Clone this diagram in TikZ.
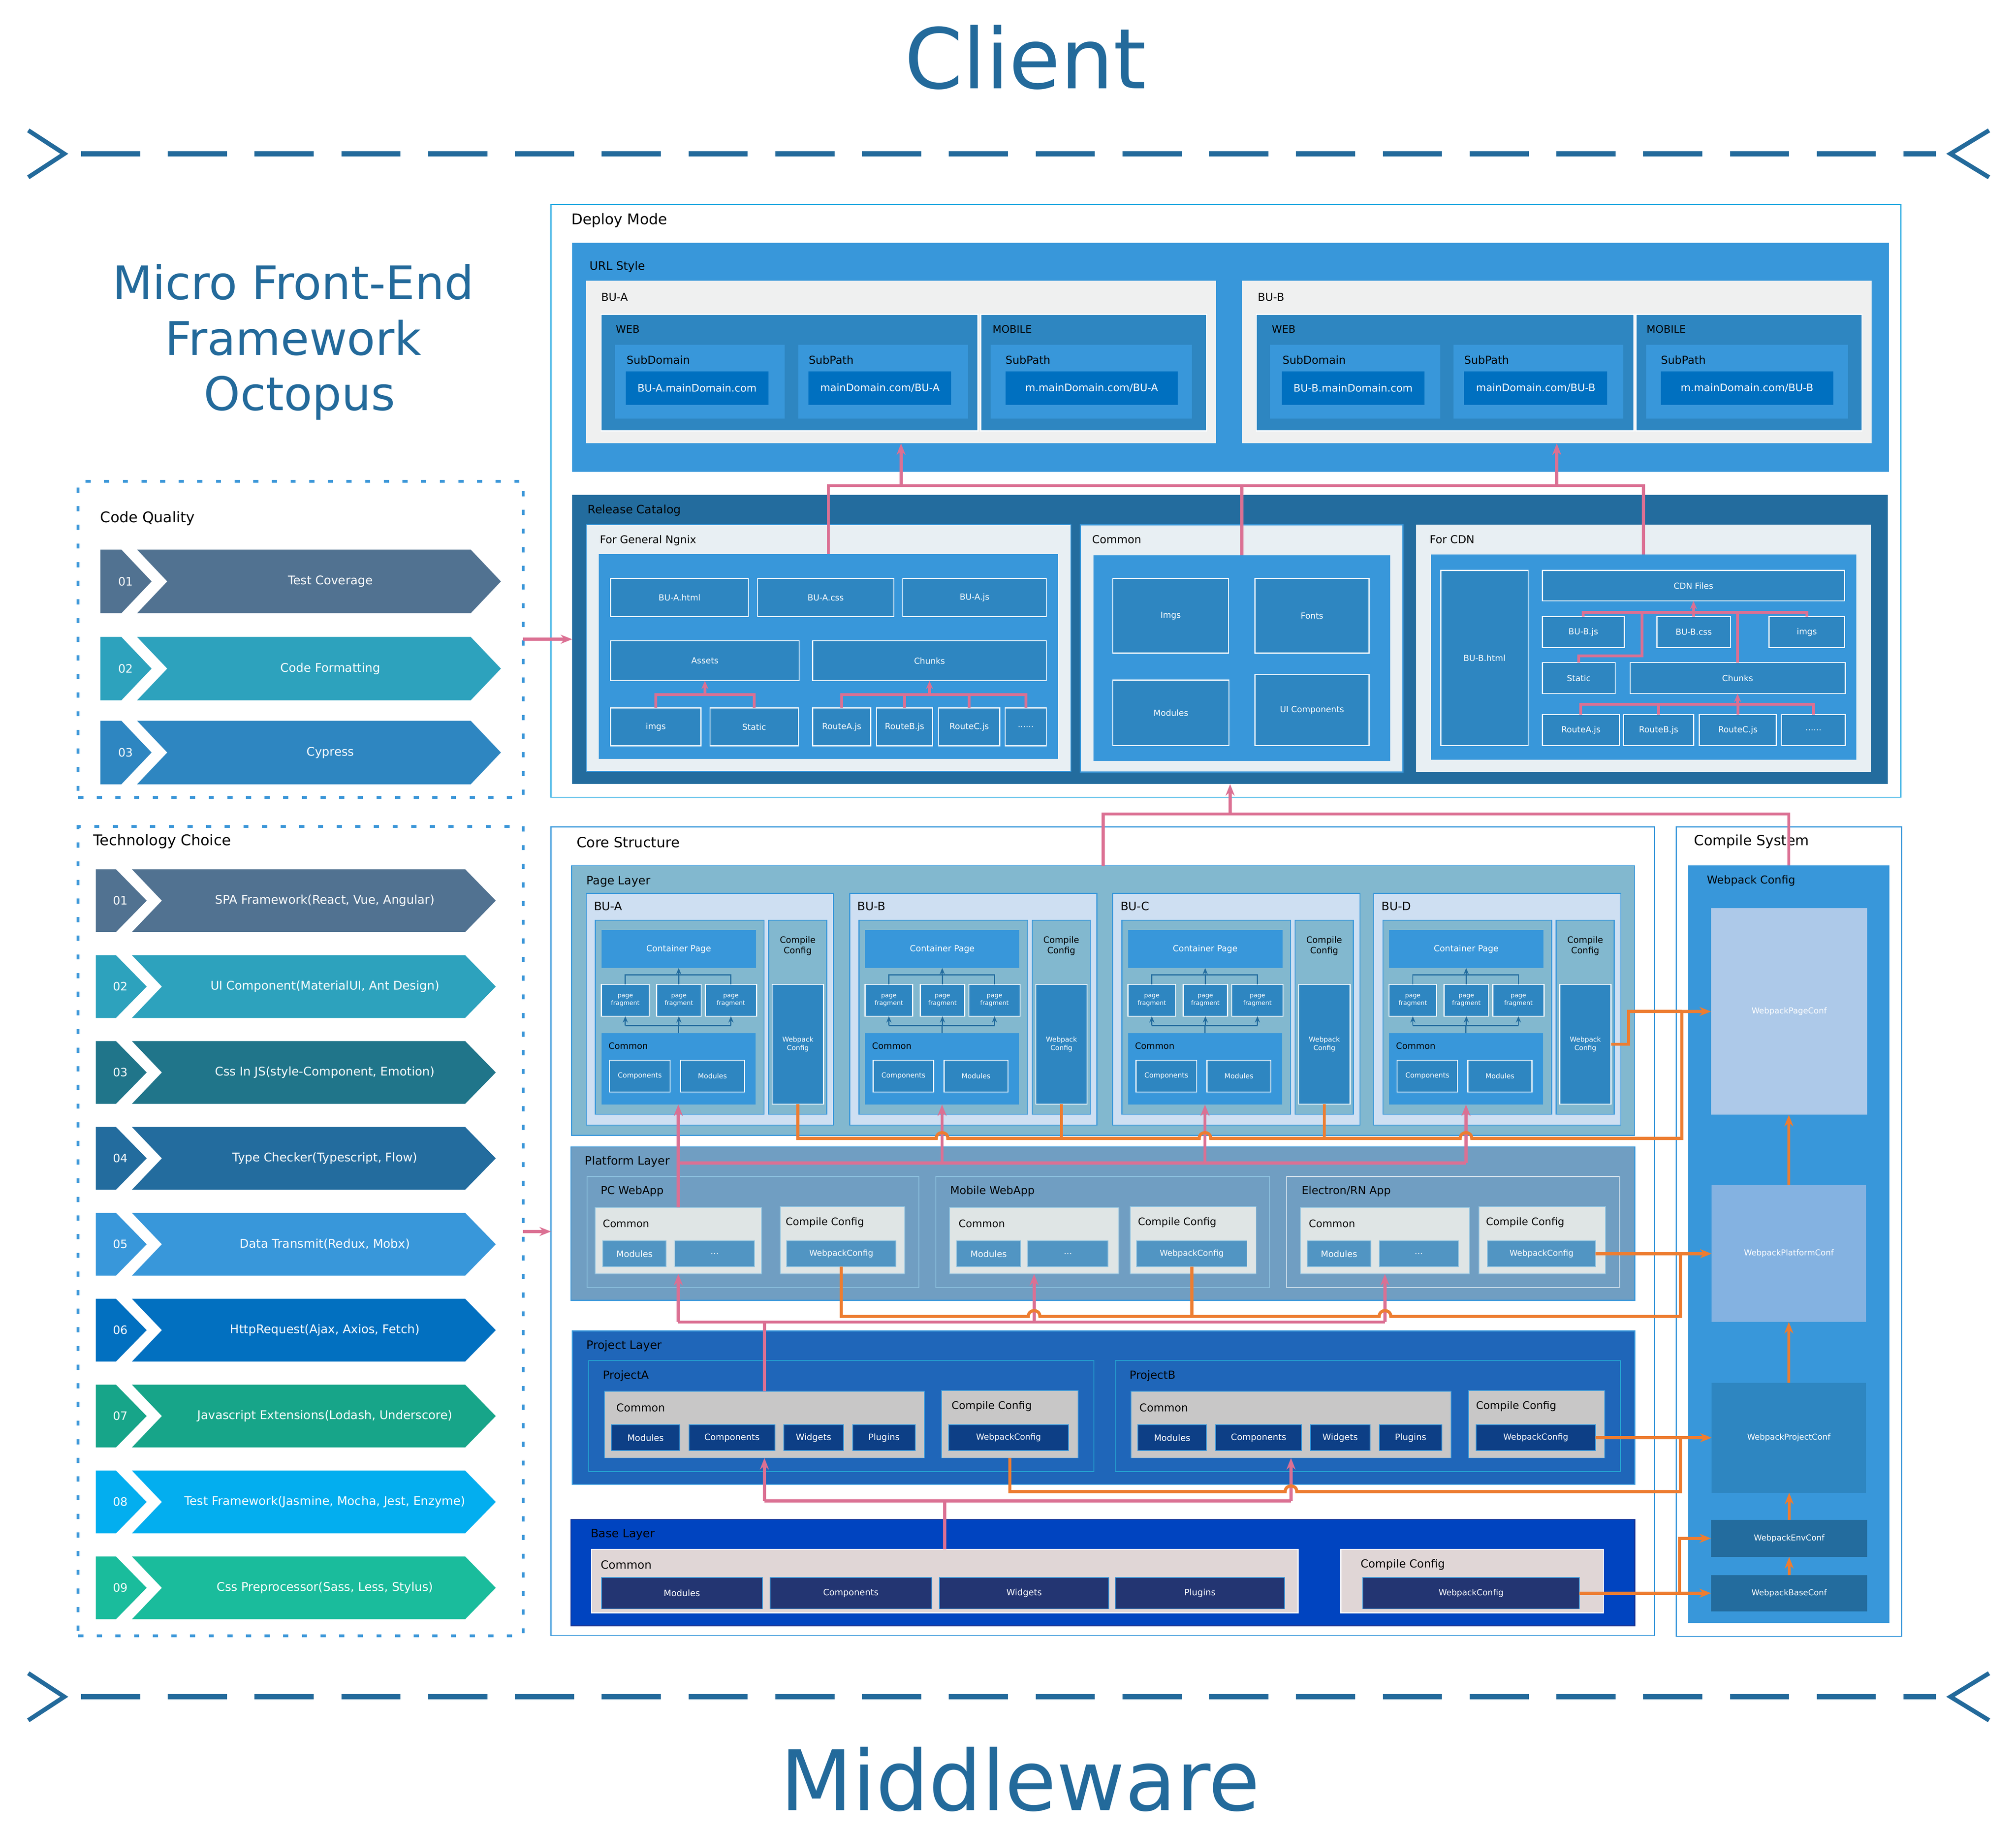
\documentclass[tikz,border=0pt]{standalone}
\usepackage{fontspec}
\setmainfont{DejaVu Sans}
\usetikzlibrary{arrows.meta}
\definecolor{tblue}{RGB}{35,106,155}
\definecolor{dline}{RGB}{58,150,216}
\definecolor{dmb}{RGB}{41,171,226}
\definecolor{urlb}{RGB}{56,151,218}
\definecolor{webb}{RGB}{46,134,193}
\definecolor{domb}{RGB}{0,112,192}
\definecolor{lgray}{RGB}{239,240,240}
\definecolor{relb}{RGB}{35,108,158}
\definecolor{ngbg}{RGB}{232,239,243}
\definecolor{pagel}{RGB}{130,184,207}
\definecolor{bul}{RGB}{206,223,242}
\definecolor{platl}{RGB}{112,158,194}
\definecolor{platg}{RGB}{223,229,229}
\definecolor{plati}{RGB}{81,149,195}
\definecolor{plb}{RGB}{140,192,222}
\definecolor{projl}{RGB}{31,102,185}
\definecolor{projb}{RGB}{37,163,208}
\definecolor{projg}{RGB}{200,199,199}
\definecolor{proji}{RGB}{13,63,134}
\definecolor{basel}{RGB}{0,68,192}
\definecolor{baseg}{RGB}{224,214,214}
\definecolor{basei}{RGB}{35,53,114}
\definecolor{pinkc}{RGB}{219,112,147}
\definecolor{orng}{RGB}{237,125,49}
\definecolor{pconfc}{RGB}{173,201,233}
\definecolor{plconfc}{RGB}{132,178,225}
\definecolor{ca}{RGB}{81,114,145}
\definecolor{cb}{RGB}{45,162,189}
\definecolor{cc}{RGB}{32,117,138}
\definecolor{cd}{RGB}{35,108,158}
\definecolor{ce}{RGB}{56,151,218}
\definecolor{cf}{RGB}{2,112,192}
\definecolor{cg}{RGB}{23,165,137}
\definecolor{ch}{RGB}{3,174,239}
\definecolor{ci}{RGB}{26,188,156}
\newcommand\myfs[1]{\fontsize{#1}{\fpeval{#1*1.2}}\selectfont}
\newcommand\mybox[7]{\node[bxs,#6,minimum width={(#4)-(#2)},minimum height={(#5)-(#3)}] (#1) at (#2,#3) {#7};}
\newcommand\mychev[6]{%
  \pgfmathsetmacro\cmid{(#2+#3)/2}%
  \fill[#4] (\cxa,#2) -- (\cxb,#2) -- (\cxc,\cmid) -- (\cxb,#3) -- (\cxa,#3) -- cycle;
  \fill[#4] (\cxd,#2) -- (\cxf,#2) -- (\cxg,\cmid) -- (\cxf,#3) -- (\cxd,#3) -- (\cxe,\cmid) -- cycle;
  \node[font=\myfs{9},text=white,inner sep=0pt] (#1n) at (\cxn,\cmid) {#5};
  \node[font=\myfs{9.3},text=white,inner sep=0pt] (#1t) at (\cxl,\cmid) {#6};
}
\begin{document}
\begin{tikzpicture}[x=1pt,y=-1pt,
  bxs/.style={anchor=north west,inner sep=0pt,outer sep=0pt,align=center},
  lb/.style={anchor=west,inner sep=0pt,outer sep=0pt},
  ttl/.style={anchor=base,text=tblue,font=\myfs{65}},
  wline/.style={draw=white,line width=0.8pt},
  rit/.style={fill=webb,wline,text=white,font=\myfs{6.5}},
  frag/.style={fill=webb,wline,text=white,font=\myfs{4.8}},
  pit/.style={fill=webb,wline,text=white,font=\myfs{5.4}},
  plit/.style={fill=plati,draw=plb,line width=0.6pt,text=white,font=\myfs{6.8}},
  prit/.style={fill=proji,draw=urlb,line width=0.6pt,text=white,font=\myfs{6.8}},
  bait/.style={fill=basei,draw=urlb,line width=0.6pt,text=white,font=\myfs{6.8}},
  cfit/.style={text=white,font=\myfs{6.3}},
  dbox/.style={draw=dline,line width=2.2pt,dash pattern=on 4pt off 10.5pt},
  pk/.style={draw=pinkc,line width=2.4pt},
  pka/.style={pk,-{Stealth[length=9pt,width=7pt]}},
  pks/.style={draw=pinkc,line width=2.2pt},
  pksa/.style={pks,-{Stealth[length=6.5pt,width=5.5pt]}},
  og/.style={draw=orng,line width=2.4pt},
  oga/.style={og,-{Stealth[length=9pt,width=7pt]}},
  bl/.style={draw=relb,line width=0.9pt},
  bla/.style={bl,-{Stealth[length=5pt,width=4pt]}}]
\fill[white] (0,0) rectangle (1568,1422.9);
\useasboundingbox (0,0) rectangle (1568,1422.9);

% ---------- titles and separators
\node[ttl] (client) at (797.5,68.7) {Client};
\node[ttl] (mware) at (793.5,1408) {Middleware};
\draw[tblue,line width=4pt,dash pattern=on 46pt off 21.5pt] (63,119.6) -- (1506,119.6);
\draw[tblue,line width=3.4pt] (22,101.4) -- (50,119.6) -- (22,137.9);
\draw[tblue,line width=3.4pt] (1547,101.4) -- (1517,119.6) -- (1547,137.9);
\draw[tblue,line width=4pt,dash pattern=on 46pt off 21.5pt] (63,1319.5) -- (1506,1319.5);
\draw[tblue,line width=3.4pt] (22,1301.2) -- (50,1319.5) -- (22,1337.8);
\draw[tblue,line width=3.4pt] (1547,1301.2) -- (1517,1319.5) -- (1547,1337.8);
\node[anchor=base,text=tblue,font=\myfs{36}] (mt1) at (228,233) {Micro Front-End};
\node[anchor=base,text=tblue,font=\myfs{36}] (mt2) at (228,276) {Framework};
\node[anchor=base,text=tblue,font=\myfs{36}] (mt3) at (233,319) {Octopus};

% ---------- Code Quality
\mybox{cqbox}{60.8}{374.3}{406.8}{620}{dbox}{}
\node[lb,font=\myfs{11.4}] (cqt) at (78,403) {Code Quality};
\def\cxa{78.1}\def\cxb{94.4}\def\cxc{117.9}\def\cxd{106.6}\def\cxe{130.1}\def\cxf{366.1}\def\cxg{389.6}\def\cxn{97.7}\def\cxl{257}
\mychev{cqa}{427.4}{476.9}{ca}{01}{Test Coverage}
\mychev{cqb}{495.3}{544.6}{cb}{02}{Code Formatting}
\mychev{cqc}{560.5}{609.9}{webb}{03}{Cypress}

% ---------- Technology Choice
\mybox{tcbox}{60.8}{642.7}{406.8}{1272.2}{dbox}{}
\node[lb,font=\myfs{11.5}] (tct) at (72.6,654.4) {Technology Choice};
\def\cxa{74.5}\def\cxb{90.2}\def\cxc{114.1}\def\cxd{102.6}\def\cxe{125.9}\def\cxf{361.8}\def\cxg{385.6}\def\cxn{93.7}\def\cxl{252.7}
\mychev{tca}{676}{724.8}{ca}{01}{SPA Framework(React, Vue, Angular)}
\mychev{tcb}{742.8}{791.6}{cb}{02}{UI Component(MaterialUI, Ant Design)}
\mychev{tcc}{809.6}{858.4}{cc}{03}{Css In JS(style-Component, Emotion)}
\mychev{tcd}{876.4}{925.2}{cd}{04}{Type Checker(Typescript, Flow)}
\mychev{tce}{943.2}{992}{ce}{05}{Data Transmit(Redux, Mobx)}
\mychev{tcf}{1010}{1058.8}{cf}{06}{HttpRequest(Ajax, Axios, Fetch)}
\mychev{tcg}{1076.8}{1125.6}{cg}{07}{Javascript Extensions(Lodash, Underscore)}
\mychev{tch}{1143.6}{1192.4}{ch}{08}{Test Framework(Jasmine, Mocha, Jest, Enzyme)}
\mychev{tci}{1210.4}{1259.2}{ci}{09}{Css Preprocessor(Sass, Less, Stylus)}

% ---------- Deploy Mode
\mybox{dm}{428.6}{159}{1478.4}{620}{draw=dmb,line width=0.9pt}{}
\node[lb,font=\myfs{11.4}] (dmt) at (444.4,171.3) {Deploy Mode};
\mybox{url}{445.1}{188.8}{1469.1}{367}{fill=urlb}{}
\node[lb,font=\myfs{9}] (urlt) at (458.5,207.5) {URL Style};
% BU-A
\mybox{dbua}{455.7}{218.4}{945.9}{344.8}{fill=lgray}{}
\node[lb,font=\myfs{8.5}] (dbual) at (467.6,231) {BU-A};
\mybox{dawb}{467.6}{244.5}{760.7}{335}{fill=webb,wline}{}
\node[lb,font=\myfs{8}] (dawbl) at (479,256.1) {WEB};
\mybox{damb}{762.8}{244.5}{938.4}{335}{fill=webb,wline}{}
\node[lb,font=\myfs{8}] (dambl) at (772,256.1) {MOBILE};
\mybox{dasd}{478.2}{268.2}{610.2}{325.5}{fill=urlb}{}
\node[lb,font=\myfs{8.5}] (dasdl) at (487.4,280) {SubDomain};
\mybox{dasp}{620.9}{268.2}{752.9}{325.5}{fill=urlb}{}
\node[lb,font=\myfs{8.5}] (daspl) at (629,280) {SubPath};
\mybox{damp}{770.5}{268.2}{926.9}{325.5}{fill=urlb}{}
\node[lb,font=\myfs{8.5}] (dampl) at (782.1,280) {SubPath};
\mybox{dasdv}{486.7}{288.7}{597.6}{314.9}{fill=domb,text=white,font=\myfs{8}}{BU-A.mainDomain.com}
\mybox{daspv}{628.9}{288.7}{739.9}{314.9}{fill=domb,text=white,font=\myfs{8}}{mainDomain.com/BU-A}
\mybox{dampv}{782.1}{288.7}{916}{314.9}{fill=domb,text=white,font=\myfs{8}}{m.mainDomain.com/BU-A}
% BU-B
\mybox{dbub}{965.9}{218.4}{1455.7}{344.8}{fill=lgray}{}
\node[lb,font=\myfs{8.5}] (dbubl) at (978.2,231) {BU-B};
\mybox{dbwb}{977.2}{244.5}{1270.8}{335}{fill=webb,wline}{}
\node[lb,font=\myfs{8}] (dbwbl) at (989.2,256.1) {WEB};
\mybox{dbmb}{1272.5}{244.5}{1448.2}{335}{fill=webb,wline}{}
\node[lb,font=\myfs{8}] (dbmbl) at (1280.7,256.1) {MOBILE};
\mybox{dbsd}{987.9}{268.2}{1120.2}{325.5}{fill=urlb}{}
\node[lb,font=\myfs{8.5}] (dbsdl) at (997.5,280) {SubDomain};
\mybox{dbsp}{1130.5}{268.2}{1262.5}{325.5}{fill=urlb}{}
\node[lb,font=\myfs{8.5}] (dbspl) at (1138.8,280) {SubPath};
\mybox{dbmp}{1280.4}{268.2}{1437.1}{325.5}{fill=urlb}{}
\node[lb,font=\myfs{8.5}] (dbmpl) at (1291.8,280) {SubPath};
\mybox{dbsdv}{996.8}{288.7}{1107.9}{314.9}{fill=domb,text=white,font=\myfs{8}}{BU-B.mainDomain.com}
\mybox{dbspv}{1138.8}{288.7}{1250.1}{314.9}{fill=domb,text=white,font=\myfs{8}}{mainDomain.com/BU-B}
\mybox{dbmpv}{1291.7}{288.7}{1425.8}{314.9}{fill=domb,text=white,font=\myfs{8}}{m.mainDomain.com/BU-B}

% ---------- Release Catalog
\mybox{rel}{445.1}{384.7}{1468.4}{609.7}{fill=relb}{}
\node[lb,font=\myfs{9}] (relt) at (457.1,396.8) {Release Catalog};
\mybox{ngx}{456}{408}{832.9}{599.9}{fill=ngbg,draw=urlb,line width=0.8pt}{}
\node[lb,font=\myfs{8.3}] (ngxl) at (466.6,420.3) {For General Ngnix};
\mybox{ngin}{465.6}{430.8}{823}{590.1}{fill=urlb}{}
\mybox{rahtml}{475}{449.9}{582.1}{479.4}{rit}{BU-A.html}
\mybox{racss}{589.2}{449.9}{695.2}{479.4}{rit}{BU-A.css}
\mybox{rajs}{702.2}{449.9}{813.8}{479.4}{rit}{BU-A.js}
\mybox{rassets}{475}{498.3}{621.5}{529.4}{rit}{Assets}
\mybox{rchunks}{632.1}{498.3}{813.8}{529.4}{rit}{Chunks}
\mybox{rimgs}{475}{550.5}{545.1}{580}{rit}{imgs}
\mybox{rstatic}{552.2}{550.5}{620.9}{580}{rit}{Static}
\mybox{rra}{632.1}{550.5}{677.2}{580}{rit}{RouteA.js}
\mybox{rrb}{681.7}{550.5}{725.4}{580}{rit}{RouteB.js}
\mybox{rrc}{730}{550.5}{777.6}{580}{rit}{RouteC.js}
\mybox{rrd}{781.8}{550.5}{813.8}{580}{rit}{......}
\mybox{cmn}{840.3}{408.1}{1091.1}{600.3}{fill=ngbg,draw=urlb,line width=0.8pt}{}
\node[lb,font=\myfs{8.5}] (cmnl) at (849.4,419.6) {Common};
\mybox{cin}{850.5}{431.9}{1081.3}{591.7}{fill=urlb}{}
\mybox{cimgs}{865.5}{449.8}{955.5}{507.9}{rit}{Imgs}
\mybox{cfonts}{976.1}{449.8}{1064.8}{507.9}{rit}{Fonts}
\mybox{cmod}{865.5}{528.9}{955.9}{579.9}{rit}{Modules}
\mybox{cui}{976.1}{524.6}{1064.8}{579.9}{rit}{UI Components}
\mybox{cdn}{1101.4}{408.1}{1455.2}{600.3}{fill=ngbg}{}
\node[lb,font=\myfs{8.5}] (cdnl) at (1112,419.5) {For CDN};
\mybox{cdnin}{1112.9}{431.2}{1443.7}{590.9}{fill=urlb}{}
\mybox{bbhtml}{1120.7}{443.6}{1188.5}{579.9}{rit}{BU-B.html}
\mybox{cdnf}{1199.6}{443.6}{1434.7}{467.3}{rit}{CDN Files}
\mybox{bbjs}{1199.6}{479.4}{1263.3}{503.6}{rit}{BU-B.js}
\mybox{bbcss}{1288.8}{479.4}{1345.9}{503.6}{rit}{BU-B.css}
\mybox{bimgs}{1375.9}{479.4}{1434.7}{503.6}{rit}{imgs}
\mybox{bstatic}{1199.6}{515.2}{1256.3}{539.4}{rit}{Static}
\mybox{bchunks}{1267.8}{515.2}{1435.1}{539.4}{rit}{Chunks}
\mybox{bra}{1199.6}{555.7}{1259.6}{579.9}{rit}{RouteA.js}
\mybox{brb}{1262.9}{555.7}{1317.2}{579.9}{rit}{RouteB.js}
\mybox{brc}{1321.7}{555.7}{1381.6}{579.9}{rit}{RouteC.js}
\mybox{brd}{1385.8}{555.7}{1435.1}{579.9}{rit}{......}

% release internal connectors
\coordinate (rbus) at (0,540.2);
\draw[pks] (rimgs.north) -- (rimgs.north|-rbus) -- (rstatic.north|-rbus) -- (rstatic.north);
\draw[pksa] (rassets.south|-rbus) -- (rassets.south);
\draw[pks] (rra.north) -- (rra.north|-rbus) -- (rrd.north|-rbus) -- (rrd.north);
\draw[pks] (rrb.north) -- (rrb.north|-rbus);
\draw[pks] (rrc.north) -- (rrc.north|-rbus);
\draw[pksa] (rchunks.south|-rbus) -- (rchunks.south);
\coordinate (cbus) at (0,476.2);
\coordinate (cbus2) at (0,547.8);
\coordinate (cstj) at (1277.2,510);
\draw[pks] (bbjs.north) -- (bbjs.north|-cbus) -- (bimgs.north|-cbus) -- (bimgs.north);
\draw[pks] (bbcss.north) -- (bbcss.north|-cbus);
\draw[pksa] (cdnf.south|-cbus) -- (cdnf.south);
\draw[pks] (cstj|-cbus) -- (cstj) -- (bstatic.north|-cstj) -- (bstatic.north);
\draw[pks] (bchunks.north|-cbus) -- (bchunks.north);
\draw[pks] (bra.north) -- (bra.north|-cbus2) -- (brd.north|-cbus2) -- (brd.north);
\draw[pks] (brb.north) -- (brb.north|-cbus2);
\draw[pks] (brc.north) -- (brc.north|-cbus2);
\draw[pksa] (bchunks.south|-cbus2) -- (bchunks.south);

% ---------- Core Structure
\mybox{core}{428.6}{643}{1286.8}{1272}{draw=urlb,line width=0.8pt}{}
\node[lb,font=\myfs{11}] (coret) at (448.5,655) {Core Structure};
\mybox{cmps}{1303.7}{643}{1479}{1272.6}{draw=urlb,line width=0.8pt}{}
\node[lb,font=\myfs{11}] (cmpst) at (1317.6,654.3) {Compile System};

% Page layer
\mybox{pagel}{444.5}{673.3}{1271.3}{882.9}{fill=pagel,draw=urlb,line width=0.8pt}{}
\node[lb,font=\myfs{9}] (pagelt) at (456.1,685.4) {Page Layer};
\foreach \DD/\LL/\NM in {0/a/BU-A,205/b/BU-B,409.5/c/BU-C,612.5/d/BU-D}{
\begin{scope}[xshift=\DD pt]
\mybox{pbu\LL}{455.9}{694.7}{648.2}{874.9}{fill=bul,draw=urlb,line width=0.8pt}{}
\node[lb,font=\myfs{9}] (pbl\LL) at (462,704.6) {\NM};
\mybox{pin\LL}{463.1}{715.6}{594.3}{866.5}{fill=pagel,draw=urlb,line width=0.8pt}{}
\mybox{pcc\LL}{597.8}{715.6}{643}{866.5}{fill=pagel,draw=urlb,line width=0.8pt}{}
\node[font=\myfs{6.8},align=center,inner sep=0pt] (pccl\LL) at (620.4,735.5) {Compile\\Config};
\mybox{pcp\LL}{467.8}{723.3}{587.9}{752.7}{fill=urlb,text=white,font=\myfs{6.6}}{Container Page}
\mybox{pfa\LL}{467.8}{765.5}{504.9}{790.2}{frag}{page\\fragment}
\mybox{pfb\LL}{510.7}{765.5}{545.3}{790.2}{frag}{page\\fragment}
\mybox{pfc\LL}{548.6}{765.5}{588.4}{790.2}{frag}{page\\fragment}
\mybox{pcm\LL}{467.8}{803.3}{587.6}{858.9}{fill=urlb}{}
\node[lb,font=\myfs{6.8}] (pcml\LL) at (473.3,813.3) {Common};
\mybox{pco\LL}{474.1}{824.4}{521.2}{849.2}{pit}{Components}
\mybox{pmo\LL}{529.2}{824.4}{579}{849.2}{pit}{Modules}
\mybox{pwc\LL}{600.6}{765.5}{640.5}{858.6}{pit,font=\myfs{5.3}}{Webpack\\Config}
\coordinate (ubus) at (0,758.1);
\coordinate (lbus) at (0,797.6);
\draw[bl] (pfa\LL.north) -- (pfa\LL.north|-ubus) -- (pfc\LL.north|-ubus) -- (pfc\LL.north);
\draw[bl] (pfb\LL.north) -- (pfb\LL.north|-ubus);
\draw[bla] (pcp\LL.south|-ubus) -- (pcp\LL.south);
\draw[bl] (pcm\LL.north) -- (pcm\LL.north|-lbus);
\draw[bl] (pfa\LL.south|-lbus) -- (pfc\LL.south|-lbus);
\draw[bla] (pfa\LL.south|-lbus) -- (pfa\LL.south);
\draw[bla] (pfb\LL.south|-lbus) -- (pfb\LL.south);
\draw[bla] (pfc\LL.south|-lbus) -- (pfc\LL.south);
\end{scope}
}

% Platform layer
\mybox{plat}{444}{891.8}{1271.4}{1011.2}{fill=platl,draw=urlb,line width=0.8pt}{}
\node[lb,font=\myfs{9}] (platt) at (455,903.4) {Platform Layer};
\mybox{plp}{456.7}{914.9}{714.6}{1001.2}{draw=plb,line width=0.7pt}{}
\node[lb,font=\myfs{8.5}] (plpl) at (467.2,926.5) {PC WebApp};
\mybox{plpcom}{462.8}{938.8}{592.3}{990.6}{fill=platg,draw=plb,line width=0.6pt}{}
\node[lb,font=\myfs{8}] (plpcoml) at (468.9,951.5) {Common};
\mybox{plpmo}{468.9}{964.9}{518.1}{985}{plit}{Modules}
\mybox{plpdo}{524.8}{964.9}{586.8}{985}{plit}{...}
\mybox{plpcc}{606.7}{938.3}{703.6}{990.6}{fill=platg,draw=plb,line width=0.6pt}{}
\node[lb,font=\myfs{8}] (plpccl) at (611.1,950.6) {Compile Config};
\mybox{plpwc}{611.7}{964.9}{696.9}{985}{plit,font=\myfs{6.4}}{WebpackConfig}
\mybox{plm}{727.9}{914.9}{987.5}{1001.2}{draw=plb,line width=0.7pt}{}
\node[lb,font=\myfs{8.5}] (plml) at (739,926.5) {Mobile WebApp};
\mybox{plmcom}{738.4}{938.8}{870.2}{990.6}{fill=platg,draw=plb,line width=0.6pt}{}
\node[lb,font=\myfs{8}] (plmcoml) at (745.6,951.5) {Common};
\mybox{plmmo}{744}{964.9}{793.8}{985}{plit}{Modules}
\mybox{plmdo}{799.3}{964.9}{861.9}{985}{plit}{...}
\mybox{plmcc}{879}{938.3}{977}{990.6}{fill=platg,draw=plb,line width=0.6pt}{}
\node[lb,font=\myfs{8}] (plmccl) at (885.1,950.6) {Compile Config};
\mybox{plmwc}{884}{964.9}{969.8}{985}{plit,font=\myfs{6.4}}{WebpackConfig}
\mybox{ple}{1000.8}{914.9}{1259.3}{1001.2}{draw={rgb,255:red,215;green,228;blue,238},line width=0.7pt}{}
\node[lb,font=\myfs{8.5}] (plel) at (1012.4,926.5) {Electron/RN App};
\mybox{plecom}{1011.3}{938.8}{1143}{990.6}{fill=platg,draw=plb,line width=0.6pt}{}
\node[lb,font=\myfs{8}] (plecoml) at (1018,951.5) {Common};
\mybox{plemo}{1016.8}{964.9}{1066.1}{985}{plit}{Modules}
\mybox{pledo}{1072.7}{964.9}{1134.2}{985}{plit}{...}
\mybox{plecc}{1150.2}{938.3}{1248.8}{990.6}{fill=platg,draw=plb,line width=0.6pt}{}
\node[lb,font=\myfs{8}] (pleccl) at (1155.8,950.6) {Compile Config};
\mybox{plewc}{1156.9}{964.9}{1241}{985}{plit,font=\myfs{6.4}}{WebpackConfig}

% Project layer
\mybox{proj}{445.1}{1035}{1271.4}{1154.3}{fill=projl,draw=urlb,line width=0.8pt}{}
\node[lb,font=\myfs{9}] (projt) at (456.1,1046.8) {Project Layer};
\mybox{pja}{457.8}{1058}{850.8}{1144.4}{draw=projb,line width=0.7pt}{}
\node[lb,font=\myfs{8.7}] (pjal) at (468.9,1069.8) {ProjectA};
\mybox{pjacom}{470}{1081.8}{719.1}{1133.8}{fill=projg,draw=urlb,line width=0.6pt}{}
\node[lb,font=\myfs{8.4}] (pjacoml) at (479.4,1094.6) {Common};
\mybox{pjamo}{475.5}{1108}{528.7}{1128.1}{prit}{Modules}
\mybox{pjaco}{535.8}{1108}{602.8}{1128.1}{prit}{Components}
\mybox{pjawi}{609.5}{1108}{656}{1128.1}{prit}{Widgets}
\mybox{pjapl}{663.2}{1108}{711.9}{1128.1}{prit}{Plugins}
\mybox{pjacc}{732.3}{1081.2}{838.6}{1133.8}{fill=projg,draw=urlb,line width=0.6pt}{}
\node[lb,font=\myfs{8.2}] (pjaccl) at (740.1,1093.7) {Compile Config};
\mybox{pjawc}{737.9}{1108}{830.9}{1128.1}{prit,font=\myfs{6.5}}{WebpackConfig}
\mybox{pjb}{867.4}{1058}{1260.4}{1144.4}{draw=projb,line width=0.7pt}{}
\node[lb,font=\myfs{8.7}] (pjbl) at (878.5,1069.8) {ProjectB};
\mybox{pjbcom}{879.6}{1081.8}{1128.6}{1133.8}{fill=projg,draw=urlb,line width=0.6pt}{}
\node[lb,font=\myfs{8.4}] (pjbcoml) at (886.2,1094.6) {Common};
\mybox{pjbmo}{885.1}{1108}{938.2}{1128.1}{prit}{Modules}
\mybox{pjbco}{945.4}{1108}{1012.4}{1128.1}{prit}{Components}
\mybox{pjbwi}{1019.1}{1108}{1065.5}{1128.1}{prit}{Widgets}
\mybox{pjbpl}{1072.7}{1108}{1121.5}{1128.1}{prit}{Plugins}
\mybox{pjbcc}{1142}{1081.2}{1248.2}{1133.8}{fill=projg,draw=urlb,line width=0.6pt}{}
\node[lb,font=\myfs{8.2}] (pjbccl) at (1148,1093.7) {Compile Config};
\mybox{pjbwc}{1148}{1108}{1241}{1128.1}{prit,font=\myfs{6.5}}{WebpackConfig}

% Base layer
\mybox{base}{444}{1181.6}{1271.4}{1264.3}{fill=basel,draw={rgb,255:red,20;green,50;blue,150},line width=0.8pt}{}
\node[lb,font=\myfs{9}] (baset) at (459.5,1193.2) {Base Layer};
\mybox{bcom}{460}{1204.8}{1009.6}{1254.3}{fill=baseg,wline}{}
\node[lb,font=\myfs{8.8}] (bcoml) at (467.2,1216.7) {Common};
\mybox{bmo}{467.8}{1226.8}{592.9}{1251.1}{bait}{Modules}
\mybox{bco}{598.9}{1226.8}{724.6}{1251.1}{bait}{Components}
\mybox{bwi}{730.7}{1226.8}{862.4}{1251.1}{bait}{Widgets}
\mybox{bpl}{867.4}{1226.8}{999.1}{1251.1}{bait}{Plugins}
\mybox{bcc}{1042.9}{1204.8}{1247.1}{1254.3}{fill=baseg,wline}{}
\node[lb,font=\myfs{8.6}] (bccl) at (1058.3,1216.7) {Compile Config};
\mybox{bwc}{1060}{1226.8}{1228.3}{1251.1}{bait,font=\myfs{6.5}}{WebpackConfig}

% Compile system
\mybox{wcfg}{1313}{673.1}{1469.6}{1262.3}{fill=urlb}{}
\node[lb,font=\myfs{8.5}] (wcfgt) at (1327.6,684.9) {Webpack Config};
\mybox{pconf}{1330.8}{706.3}{1452.3}{866.9}{fill=pconfc,cfit}{WebpackPageConf}
\mybox{plconf}{1331.3}{921.4}{1451.3}{1028}{fill=plconfc,cfit}{WebpackPlatformConf}
\mybox{prconf}{1331.3}{1075.3}{1451.3}{1160.8}{fill=webb,cfit}{WebpackProjectConf}
\mybox{envc}{1330.8}{1181.8}{1452.3}{1210.8}{fill=relb,cfit}{WebpackEnvConf}
\mybox{bconf}{1330.8}{1225}{1452.3}{1253.1}{fill=relb,cfit}{WebpackBaseConf}

% ---------- pink connectors
\coordinate (lp1) at (0,497.1);
\coordinate (lp2) at (0,957.7);
\draw[pka] (cqbox.east|-lp1) -- (rel.west|-lp1);
\draw[pka] (tcbox.east|-lp2) -- (core.west|-lp2);
\coordinate (dbus) at (0,377.7);
\draw[pk] (ngin.north) -- (ngin.north|-dbus) -- (cdnin.north|-dbus) -- (cdnin.north);
\draw[pk] (cin.north) -- (cin.north|-dbus);
\draw[pka] (dbua.south|-dbus) -- (dbua.south);
\draw[pka] (dbub.south|-dbus) -- (dbub.south);
\coordinate (pb0) at (0,633);
\draw[pk] (pagel.north) -- (pagel.north|-pb0) -- (wcfg.north|-pb0) -- (wcfg.north);
\draw[pka] (rel.south|-pb0) -- (rel.south);
\coordinate (pb1) at (0,904.5);
\draw[pka] (plpcom.north) -- (plpcom.north|-pcma.south);
\draw[pk] (plpcom.north|-pb1) -- (pcmd.south|-pb1);
\draw[pka] (pcmb.south|-pb1) -- (pcmb.south);
\draw[pka] (pcmc.south|-pb1) -- (pcmc.south);
\draw[pka] (pcmd.south|-pb1) -- (pcmd.south);
\coordinate (pb2) at (0,1028.1);
\draw[pk] (pjacom.north) -- (pjacom.north|-pb2);
\draw[pk] (plpcom.south|-pb2) -- (plecom.south|-pb2);
\draw[pka] (plpcom.south|-pb2) -- (plpcom.south);
\draw[pka] (plmcom.south|-pb2) -- (plmcom.south);
\draw[pka] (plecom.south|-pb2) -- (plecom.south);
\coordinate (pb3) at (0,1167.2);
\draw[pk] (bcom.north) -- (bcom.north|-pb3);
\draw[pk] (pjacom.south|-pb3) -- (pjbcom.south|-pb3);
\draw[pka] (pjacom.south|-pb3) -- (pjacom.south);
\draw[pka] (pjbcom.south|-pb3) -- (pjbcom.south);

% ---------- orange connectors
\draw[oga] (pwca.south) -- (620.55,885.3) -- (728.2,885.3) .. controls (728.2,879.3) and (737.2,879.3) .. (737.2,885.3) -- (932.7,885.3) .. controls (932.7,879.3) and (941.7,879.3) .. (941.7,885.3) -- (1135.7,885.3) .. controls (1135.7,879.3) and (1144.7,879.3) .. (1144.7,885.3) -- (1308.1,885.3) |- (pconf.west);
\coordinate (ob1) at (0,885.3);
\draw[og] (pwcb.south) -- (pwcb.south|-ob1);
\draw[og] (pwcc.south) -- (pwcc.south|-ob1);
\draw[og] (pwcd.east) -| (1266.6,786.6) -- (1308.1,786.6);
\draw[og] (plpwc.south) -- (654.3,1023.7) -- (799.8,1023.7) .. controls (799.8,1017.7) and (808.8,1017.7) .. (808.8,1023.7) -- (1072.7,1023.7) .. controls (1072.7,1017.7) and (1081.7,1017.7) .. (1081.7,1023.7) -- (1307,1023.7) -- (1307,974.8);
\coordinate (ob2) at (0,1023.7);
\draw[og] (plmwc.south) -- (plmwc.south|-ob2);
\draw[oga] (plewc.east) -- (plconf.west|-plewc.east);
\draw[og] (pjacc.south) -- (785.45,1160) -- (999.6,1160) .. controls (999.6,1154) and (1008.6,1154) .. (1008.6,1160) -- (1307,1160) -- (1307,1118.05);
\draw[oga] (pjbwc.east) -- (prconf.west|-pjbwc.east);
\draw[oga] (bwc.east) -- (bconf.west|-bwc.east);
\coordinate (ojb) at (1306.3,1239);
\draw[oga] (ojb) |- (envc.west);
\draw[oga] (plconf.north) -- (plconf.north|-pconf.south);
\draw[oga] (prconf.north) -- (prconf.north|-plconf.south);
\draw[oga] (envc.north) -- (envc.north|-prconf.south);
\draw[oga] (bconf.north) -- (bconf.north|-envc.south);
\end{tikzpicture}
\end{document}
